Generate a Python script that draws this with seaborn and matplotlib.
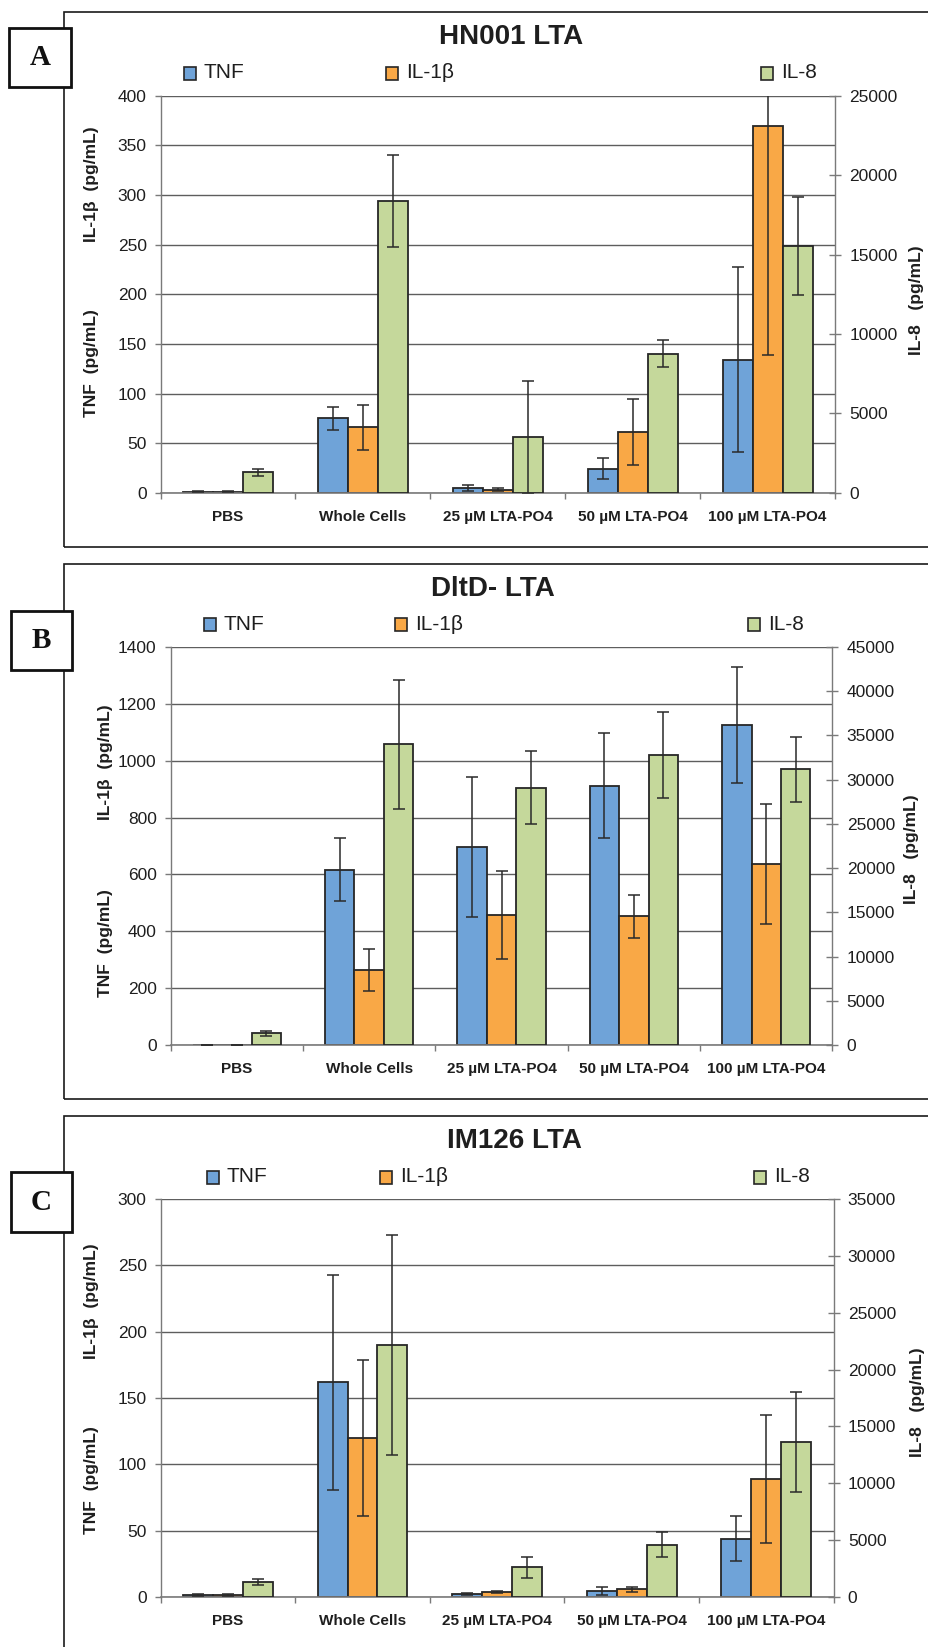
import numpy as np
import pandas as pd
import matplotlib
matplotlib.use("Agg")
import matplotlib.pyplot as plt
from matplotlib.patches import Rectangle
from matplotlib.ticker import MultipleLocator, FixedLocator
import seaborn as sns

# ---- data -------------------------------------------------------------
categories = ["PBS", "Whole Cells", "25 µM LTA-PO4", "50 µM LTA-PO4", "100 µM LTA-PO4"]
cytokines = ["TNF", "IL-1β", "IL-8"]

# HN001 LTA
tnf_a = [1.0, 75, 5, 24.5, 134]
tnf_a_err = [0.5, 12, 3, 11, 93]
il1b_a = [1.0, 66, 3, 61.5, 369]
il1b_a_err = [0.5, 23, 1.5, 33, 230]
il8_a = [1300, 18350, 3500, 8750, 15550]
il8_a_err = [230, 2900, 3550, 850, 3100]

# DltD- LTA
tnf_b = [0.5, 616, 696, 912, 1127]
tnf_b_err = [0.5, 111, 245, 185, 204]
il1b_b = [0.5, 264, 458, 453, 636]
il1b_b_err = [0.5, 75, 154, 75, 211]
il8_b = [1330, 34000, 29100, 32800, 31150]
il8_b_err = [270, 7300, 4100, 4850, 3700]

# IM126 LTA
tnf_c = [1.5, 162, 2.3, 4.6, 44]
tnf_c_err = [0.5, 81, 1, 3, 17]
il1b_c = [1.5, 120, 3.6, 5.7, 89]
il1b_c_err = [0.5, 59, 0.8, 2, 48]
il8_c = [1320, 22150, 2620, 4580, 13650]
il8_c_err = [230, 9650, 920, 1100, 4400]

titles = ["HN001 LTA", "DltD- LTA", "IM126 LTA"]
letters = ["A", "B", "C"]
left_max = [400, 1400, 300]
left_step = [50, 200, 50]
right_max = [25000, 45000, 35000]
right_step = [5000, 5000, 5000]

# ---- style ------------------------------------------------------------
sns.set_style("white")
plt.rcParams["font.family"] = ["Liberation Sans", "DejaVu Sans"]

palette = {"TNF": "#6FA3D8", "IL-1β": "#F9A846", "IL-8": "#C5D89B"}
EDGE = "#262626"
GRID = "#5e5e5e"
AXIS = "#7a7a7a"

W, H = 929, 1647
fig = plt.figure(figsize=(W / 100, H / 100), dpi=100)


def fx(x):
    return x / W


def fy(y):
    return 1 - y / H


def rect_axes(l, t, r, b):
    return [fx(l), fy(b), (r - l) / W, (b - t) / H]


layout = [
    dict(ax=(160.6, 95.7, 835, 492.9), frame=(64, 11.5, 1000, 547), box=(9, 28, 71, 87),
         title=(511, 37.5), leg_y=73, leg_x=(184, 386, 761),
         lab_x=91.5, il1b_y=184.5, tnf_y=363.5, r_lab=(917, 300)),
    dict(ax=(170.6, 647, 832.5, 1045), frame=(64, 564, 1000, 1099), box=(11, 611, 72, 670),
         title=(493, 589), leg_y=625, leg_x=(204, 395, 748),
         lab_x=106, il1b_y=762, tnf_y=943, r_lab=(912, 849)),
    dict(ax=(160.6, 1199, 833.6, 1597), frame=(64, 1116, 1000, 1700), box=(11, 1172, 72, 1232),
         title=(514, 1141), leg_y=1177, leg_x=(207, 380, 754),
         lab_x=92, il1b_y=1301.5, tnf_y=1480.5, r_lab=(918, 1402)),
]

panels = [
    (tnf_a, tnf_a_err, il1b_a, il1b_a_err, il8_a, il8_a_err),
    (tnf_b, tnf_b_err, il1b_b, il1b_b_err, il8_b, il8_b_err),
    (tnf_c, tnf_c_err, il1b_c, il1b_c_err, il8_c, il8_c_err),
]

err_kw = dict(fmt="none", ecolor="#2a2a2a", elinewidth=1.1, capsize=4.2, capthick=1.1, zorder=5)
bar_kw = dict(x="group", y="value", hue="cytokine", order=categories, hue_order=cytokines,
              palette=palette, width=0.667, dodge=True, errorbar=None, edgecolor=EDGE,
              linewidth=1.3, saturation=1, legend=False)

for i, (tnf, tnf_e, il1b, il1b_e, il8, il8_e) in enumerate(panels):
    L = layout[i]

    # outer panel frame
    fl, ft, fr, fb = L["frame"]
    fig.patches.append(Rectangle((fx(fl), fy(fb)), (fr - fl) / W, (fb - ft) / H,
                                 transform=fig.transFigure, fill=False,
                                 edgecolor="#1a1a1a", linewidth=1.2, zorder=0))

    ax = fig.add_axes(rect_axes(*L["ax"]))
    ax2 = ax.twinx()

    left_df = pd.DataFrame({
        "group": categories * 2,
        "cytokine": ["TNF"] * 5 + ["IL-1β"] * 5,
        "value": list(tnf) + list(il1b),
    })
    right_df = pd.DataFrame({"group": categories, "cytokine": ["IL-8"] * 5, "value": il8})

    sns.barplot(data=left_df, ax=ax, **bar_kw)
    sns.barplot(data=right_df, ax=ax2, **bar_kw)

    # error bars at the centres of the drawn bars
    lx = np.sort([p.get_x() + p.get_width() / 2 for p in ax.patches]).reshape(5, 2)
    rx = np.sort([p.get_x() + p.get_width() / 2 for p in ax2.patches])
    ax.errorbar(lx[:, 0], tnf, yerr=tnf_e, **err_kw)
    ax.errorbar(lx[:, 1], il1b, yerr=il1b_e, **err_kw)
    ax2.errorbar(rx, il8, yerr=il8_e, **err_kw)

    # left axis
    ax.set_xlim(-0.5, 4.5)
    ax.set_ylim(0, left_max[i])
    ax.yaxis.set_major_locator(MultipleLocator(left_step[i]))
    ax.yaxis.grid(True, color=GRID, linewidth=1.0)
    ax.xaxis.grid(False)
    ax.set_axisbelow(True)
    ax.set_xlabel("")
    ax.set_ylabel("")
    for s in ("top", "right"):
        ax.spines[s].set_visible(False)
    ax.spines["left"].set_color(AXIS)
    ax.spines["bottom"].set_color(AXIS)
    ax.spines["left"].set_linewidth(1.0)
    ax.spines["bottom"].set_linewidth(1.2)
    ax.tick_params(axis="y", which="major", direction="out", length=4, width=1.0,
                   color=AXIS, pad=6, labelsize=12.5, labelcolor="#1e1e1e", left=True)
    ax.set_xticks(range(len(categories)))
    ax.set_xticklabels(categories, fontweight="bold", fontsize=11, color="#1e1e1e")
    ax.tick_params(axis="x", which="major", length=0, pad=12)
    ax.xaxis.set_minor_locator(FixedLocator(np.arange(-0.5, 5, 1.0)))
    ax.tick_params(axis="x", which="minor", direction="out", length=4, width=1.0,
                   color=AXIS, bottom=True)

    # right axis
    ax2.set_xlim(-0.5, 4.5)
    ax2.set_ylim(0, right_max[i])
    ax2.yaxis.set_major_locator(MultipleLocator(right_step[i]))
    ax2.grid(False)
    ax2.set_xlabel("")
    ax2.set_ylabel("")
    for s in ("top", "left", "bottom"):
        ax2.spines[s].set_visible(False)
    ax2.spines["right"].set_color(AXIS)
    ax2.spines["right"].set_linewidth(1.0)
    ax2.tick_params(axis="y", direction="inout", length=8.5, width=1.0, color=AXIS,
                    pad=6, labelsize=12.5, labelcolor="#1e1e1e", right=True)
    ax2.tick_params(axis="x", which="both", bottom=False, labelbottom=False)

    # axis titles
    fig.text(fx(L["lab_x"]), fy(L["il1b_y"]), "IL-1β  (pg/mL)", rotation=90,
             ha="center", va="center", fontsize=12.5, fontweight="bold", color="#1e1e1e")
    fig.text(fx(L["lab_x"]), fy(L["tnf_y"]), "TNF  (pg/mL)", rotation=90,
             ha="center", va="center", fontsize=12.5, fontweight="bold", color="#1e1e1e")
    fig.text(fx(L["r_lab"][0]), fy(L["r_lab"][1]), "IL-8   (pg/mL)", rotation=90,
             ha="center", va="center", fontsize=12.5, fontweight="bold", color="#1e1e1e")

    # chart title
    fig.text(fx(L["title"][0]), fy(L["title"][1]), titles[i], ha="center", va="center",
             fontsize=20, fontweight="bold", color="#1e1e1e")

    # legend row
    for name, x0 in zip(cytokines, L["leg_x"]):
        fig.patches.append(Rectangle((fx(x0), fy(L["leg_y"] + 6.5)), 12 / W, 13 / H,
                                     transform=fig.transFigure, facecolor=palette[name],
                                     edgecolor=EDGE, linewidth=1.2))
        fig.text(fx(x0 + 20), fy(L["leg_y"]), name, ha="left", va="center",
                 fontsize=15, color="#1e1e1e")

    # panel letter
    bl, bt, br, bb = L["box"]
    fig.patches.append(Rectangle((fx(bl), fy(bb)), (br - bl) / W, (bb - bt) / H,
                                 transform=fig.transFigure, facecolor="white",
                                 edgecolor="#111111", linewidth=2.0, zorder=3))
    fig.text(fx((bl + br) / 2), fy((bt + bb) / 2), letters[i], ha="center", va="center",
             fontsize=21, fontweight="bold", family=["Liberation Serif", "DejaVu Serif"],
             color="#111111", zorder=4)

fig.savefig("out.png", dpi=100, facecolor="white")
